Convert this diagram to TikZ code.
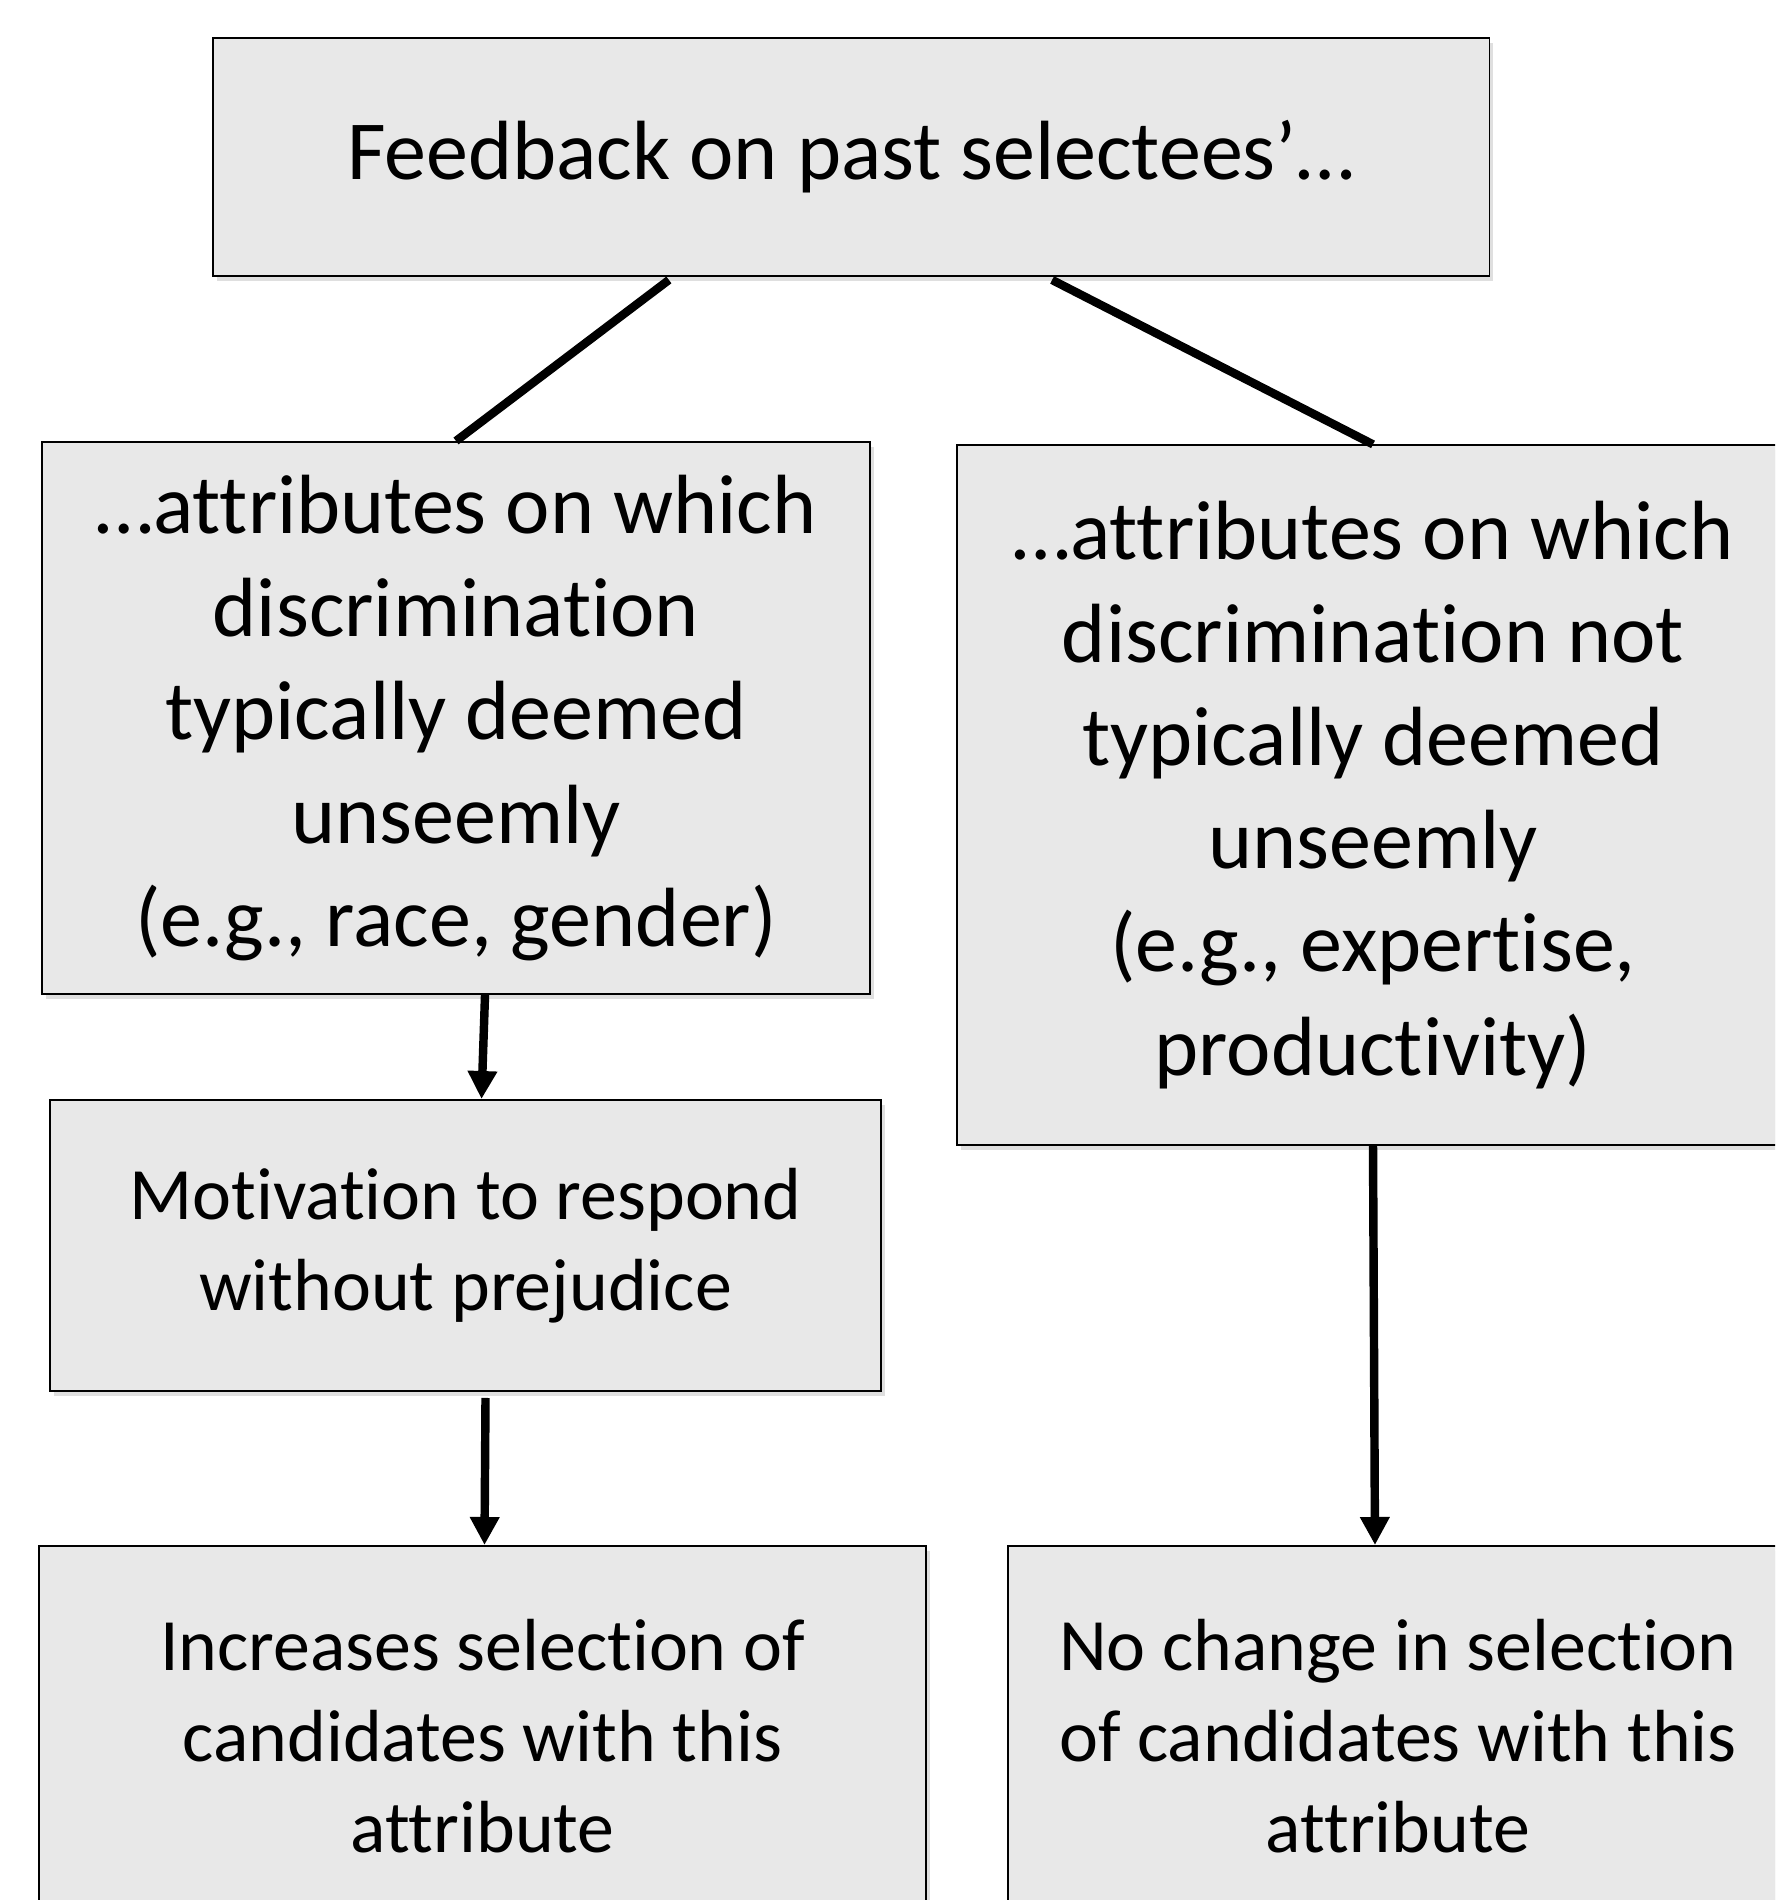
\documentclass[tikz,border=0pt]{standalone}
\usepackage{fontspec}
\setmainfont{Carlito}[Ligatures=NoCommon]
\usetikzlibrary{arrows.meta,shadows}
\definecolor{boxgray}{HTML}{E8E8E8}

\begin{document}
\begin{tikzpicture}[x=0.01cm, y=-0.01cm,
			box/.style={draw=black, line width=0.5pt, fill=boxgray, align=center, inner sep=0pt,
				drop shadow={shadow xshift=0.04cm, shadow yshift=-0.05cm, opacity=0.25}},
			big/.style={font=\fontsize{23.9}{29.3}\selectfont},
			small/.style={font=\fontsize{21}{25.9}\selectfont},
			link/.style={line width=2.4pt},
			flow/.style={line width=2.4pt, -{Triangle[length=0.28cm,width=0.28cm]}}]
			\useasboundingbox (0,0) rectangle (1775,1900);
			\clip (0,0) rectangle (1775,1900);
			\node[box, big, minimum width=12.76cm, minimum height=2.38cm] (feedback) at (851,157) {Feedback on past selectees’…};
			\node[box, big, minimum width=8.28cm, minimum height=5.52cm] (unseemly) at (456,718)
				{…attributes on which\\discrimination\\typically deemed\\unseemly\\(e.g., race, gender)};
			\node[box, big, minimum width=8.32cm, minimum height=6.99cm] (seemly) at (1373,795)
				{…attributes on which\\discrimination not\\typically deemed\\unseemly\\(e.g., expertise,\\productivity)};
			\node[box, small, minimum width=8.31cm, minimum height=2.91cm] (motivation) at (465.5,1245.5)
				{Motivation to respond\\without prejudice};
			\node[box, small, minimum width=8.87cm, minimum height=3.80cm] (increase) at (482.5,1736)
				{Increases selection of\\candidates with this\\attribute};
			\node[box, small, minimum width=7.80cm, minimum height=3.80cm] (nochange) at (1398,1736)
				{No change in selection\\of candidates with this\\attribute};
			% branches
			\draw[link] ([xshift=-1.82cm, yshift=-0.03cm]feedback.south) -- (unseemly.north);
			\draw[link] ([xshift=2.01cm, yshift=-0.03cm]feedback.south) -- (seemly.north);
			% arrows
			\draw[flow] ([xshift=0.29cm]unseemly.south) -- ([xshift=0.16cm]motivation.north);
			\draw[flow] ([xshift=0.2cm, yshift=-0.06cm]motivation.south) -- ([xshift=0.02cm]increase.north);
			\draw[flow] (seemly.south) -- ([xshift=-0.23cm]nochange.north);
		\end{tikzpicture}
\end{document}
